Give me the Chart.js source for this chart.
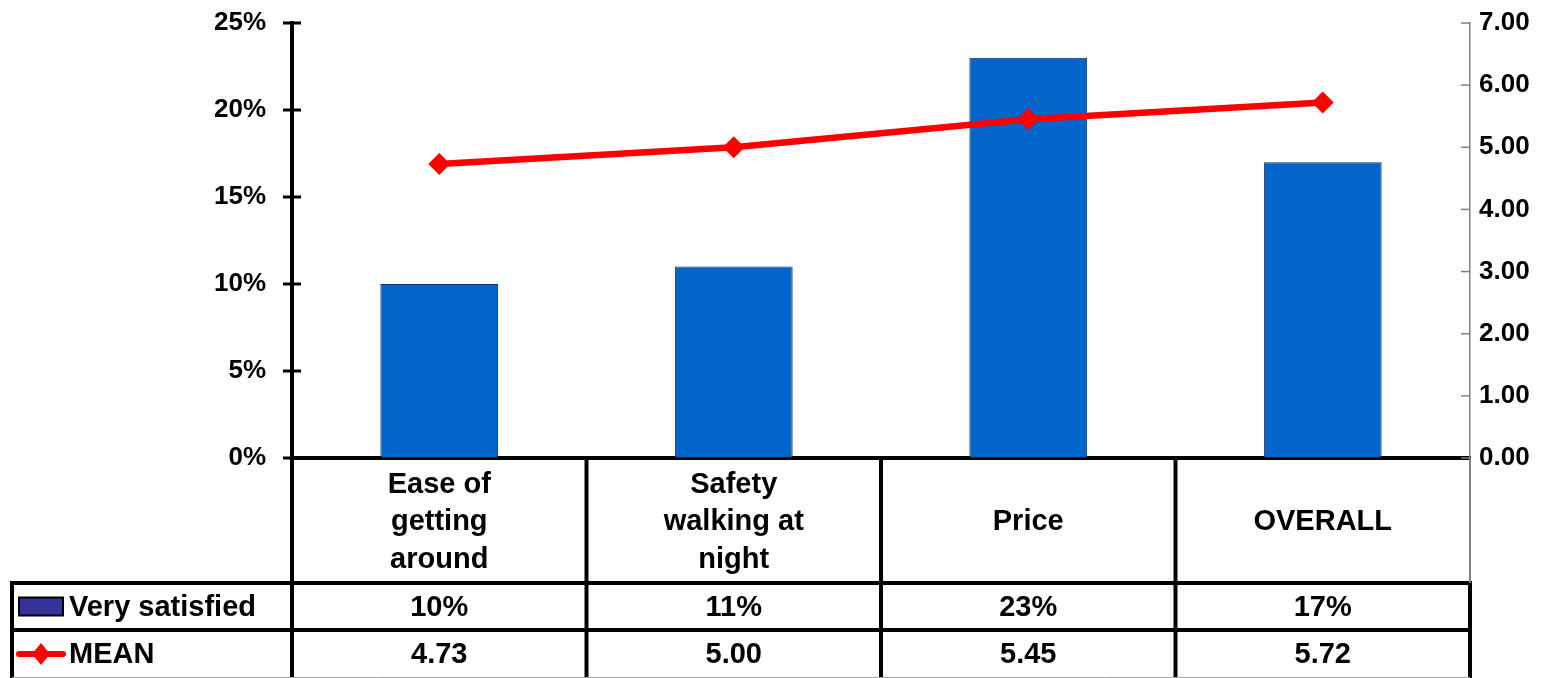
<!DOCTYPE html>
<html>
<head>
<meta charset="utf-8">
<script src="https://cdn.jsdelivr.net/npm/chart.js@4"></script>
<style>
  html, body { margin: 0; padding: 0; background: #fff; }
  #wrap { width: 1554px; height: 678px; }
</style>
</head>
<body>
<div id="wrap"><canvas id="canvas" width="1554" height="678"></canvas></div>
<script>
var categories = [["Ease of", "getting", "around"], ["Safety", "walking at", "night"], ["Price"], ["OVERALL"]];
var verySatisfied = [10, 11, 23, 17]; // percent
var meanScores = [4.73, 5.00, 5.45, 5.72];
var pctTicks = [0, 5, 10, 15, 20, 25];
var meanTicks = [0, 1, 2, 3, 4, 5, 6, 7];

var FONT = '"Liberation Sans", Arial, sans-serif';

// draws axis tick marks, the data table grid, the legend keys and table values
var tablePlugin = {
  id: 'dataTable',
  afterDraw: function(chart) {
    var c = chart.ctx;
    var x = chart.scales.x;
    var yL = chart.scales.y;
    var yR = chart.scales.y1;
    var n = categories.length;
    var colW = x.width / n;
    var top = chart.chartArea.bottom;
    var row1 = 583, row2 = 630, bottom = 678;
    var leftEdge = 12;

    c.save();
    // left axis ticks crossing the line
    c.strokeStyle = '#000';
    c.lineWidth = 3;
    pctTicks.forEach(function(v) {
      var py = yL.getPixelForValue(v);
      c.beginPath(); c.moveTo(yL.right - 9, py); c.lineTo(yL.right + 9, py); c.stroke();
    });
    // right axis ticks, inside
    c.strokeStyle = '#808080';
    c.lineWidth = 1.5;
    meanTicks.forEach(function(v) {
      var py = yR.getPixelForValue(v);
      c.beginPath(); c.moveTo(yR.left - 9, py); c.lineTo(yR.left, py); c.stroke();
    });

    // grid
    c.strokeStyle = '#000';
    c.lineWidth = 4;
    c.beginPath();
    c.moveTo(leftEdge, row1); c.lineTo(x.right, row1);
    c.moveTo(leftEdge, row2); c.lineTo(x.right, row2);
    c.moveTo(leftEdge, row1 - 2); c.lineTo(leftEdge, bottom);
    for (var i = 0; i < n; i++) {
      var ex = x.left + i * colW;
      c.moveTo(ex, top); c.lineTo(ex, bottom);
    }
    c.moveTo(x.right, row1 - 2); c.lineTo(x.right, bottom);
    c.stroke();
    c.strokeStyle = '#808080';
    c.lineWidth = 2;
    c.beginPath(); c.moveTo(x.right, top); c.lineTo(x.right, row1); c.stroke();
    c.strokeStyle = '#aaa';
    c.lineWidth = 1;
    c.beginPath(); c.moveTo(leftEdge, bottom - 0.5); c.lineTo(x.right, bottom - 0.5); c.stroke();

    // legend keys
    var r1 = (row1 + row2) / 2, r2 = (row2 + bottom) / 2;
    c.fillStyle = '#333399';
    c.strokeStyle = '#000';
    c.lineWidth = 2;
    c.fillRect(19, r1 - 9, 44, 18);
    c.strokeRect(19, r1 - 9, 44, 18);
    c.strokeStyle = '#ff0000';
    c.lineWidth = 6;
    c.lineCap = 'round';
    c.beginPath(); c.moveTo(19, r2); c.lineTo(63, r2); c.stroke();
    c.fillStyle = '#ff0000';
    c.beginPath();
    c.moveTo(41, r2 - 11); c.lineTo(50, r2); c.lineTo(41, r2 + 11); c.lineTo(32, r2); c.closePath();
    c.fill();

    var barSet = chart.data.datasets[1];
    var lineSet = chart.data.datasets[0];
    c.fillStyle = '#000';
    c.font = 'bold 29px ' + FONT;
    c.textBaseline = 'middle';
    c.textAlign = 'left';
    c.fillText(barSet.label, 69, r1 + 1);
    c.fillText(lineSet.label, 69, r2 + 1);
    c.textAlign = 'center';
    for (var j = 0; j < n; j++) {
      var cx = x.getPixelForValue(j);
      c.fillText(barSet.data[j] + '%', cx, r1 + 1);
      c.fillText(lineSet.data[j].toFixed(2), cx, r2 + 1);
    }
    c.restore();
  }
};

var ctx = document.getElementById('canvas');
var myChart = new Chart(ctx, {
  data: {
    labels: categories,
    datasets: [
      {
        type: 'line',
        label: 'MEAN',
        data: meanScores,
        yAxisID: 'y1',
        borderColor: '#ff0000',
        backgroundColor: '#ff0000',
        borderWidth: 6.5,
        pointStyle: 'rectRot',
        pointRadius: 11,
        pointBorderWidth: 0,
        tension: 0,
        order: 0
      },
      {
        type: 'bar',
        label: 'Very satisfied',
        data: verySatisfied,
        yAxisID: 'y',
        backgroundColor: '#0066cc',
        borderColor: '#1a2a5a',
        borderWidth: 1,
        categoryPercentage: 1,
        barPercentage: 0.4,
        order: 1
      }
    ]
  },
  options: {
    responsive: false,
    animation: false,
    layout: { padding: { top: 23, left: 0, right: 0, bottom: 0 } },
    plugins: {
      legend: { display: false },
      tooltip: { enabled: false }
    },
    scales: {
      x: {
        offset: true,
        grid: { display: false, drawTicks: false },
        border: { color: '#000', width: 4 },
        ticks: {
          color: '#000',
          font: { family: FONT, size: 29, weight: 'bold', lineHeight: 1.29 },
          maxRotation: 0,
          autoSkip: false,
          crossAlign: 'center',
          padding: 27
        },
        afterFit: function(s) { s.height = 220; }
      },
      y: {
        position: 'left',
        min: 0,
        max: 25,
        // invisible tick marks just make room between labels and axis
        grid: { display: true, drawOnChartArea: false, drawTicks: true, tickLength: 26, color: 'rgba(0,0,0,0)' },
        border: { color: '#000', width: 4 },
        ticks: {
          stepSize: 5,
          color: '#000',
          padding: 0,
          font: { family: FONT, size: 26, weight: 'bold' },
          callback: function(v) { return v + '%'; }
        },
        afterFit: function(s) { s.width = 292; }
      },
      y1: {
        position: 'right',
        min: 0,
        max: 7,
        grid: { display: true, drawOnChartArea: false, drawTicks: true, tickLength: 9, color: 'rgba(0,0,0,0)' },
        border: { color: '#808080', width: 1.5 },
        ticks: {
          stepSize: 1,
          color: '#000',
          padding: 0,
          font: { family: FONT, size: 26, weight: 'bold' },
          callback: function(v) { return v.toFixed(2); }
        },
        afterFit: function(s) { s.width = 84; }
      }
    }
  },
  plugins: [tablePlugin]
});
</script>
</body>
</html>
